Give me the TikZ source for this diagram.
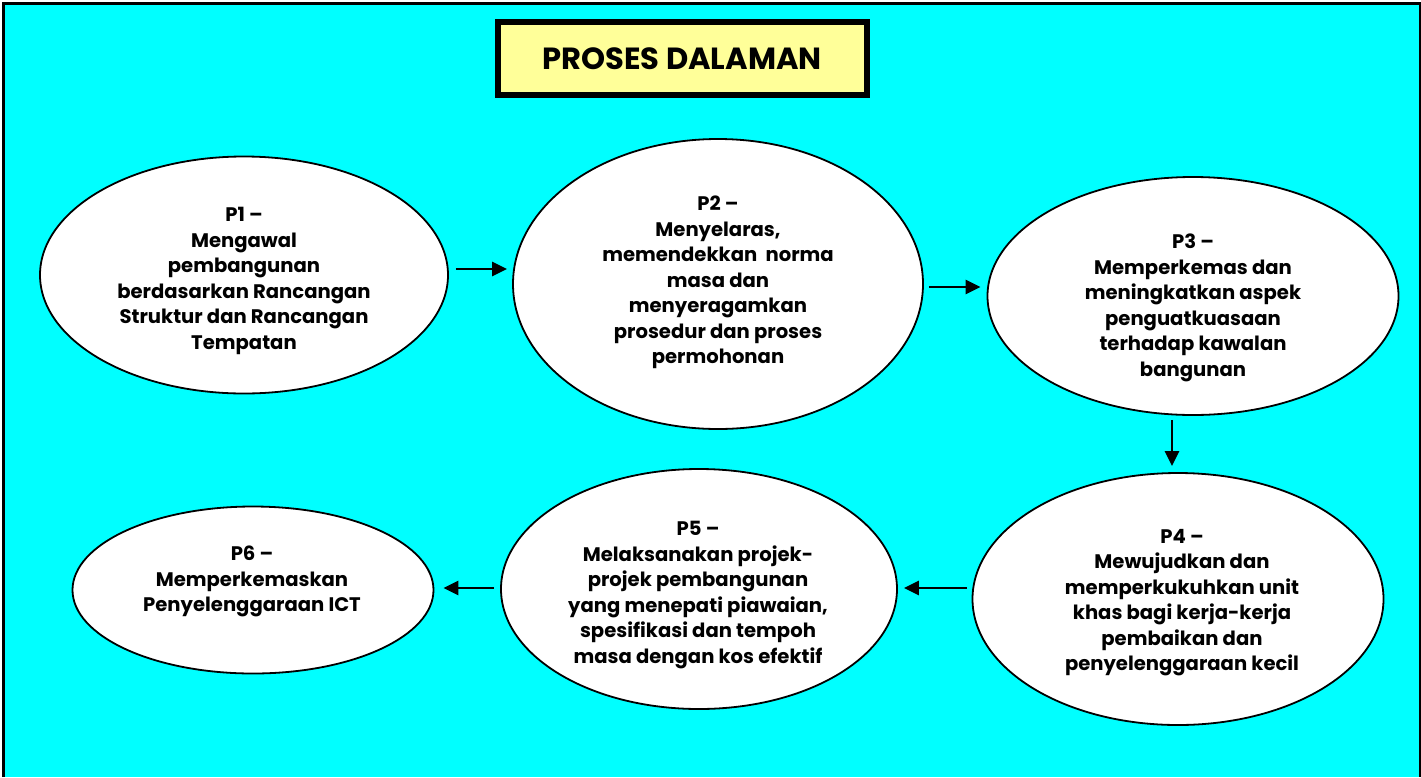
\documentclass[tikz,border=0pt]{standalone}
\usepackage{fontspec}
\setmainfont{Poppins}
\usetikzlibrary{arrows.meta,calc,shapes.geometric}
\definecolor{bgcyan}{HTML}{00FFFF}
\definecolor{titleyellow}{HTML}{FFFF99}
\begin{document}
\begin{tikzpicture}[x=1pt,y=-1pt,
  ell/.style={ellipse, draw=black, line width=1.8pt, fill=white, inner sep=0pt},
  txt/.style={align=center, anchor=north, inner sep=0pt, font=\bfseries\fontsize{19.6}{25.5}\selectfont},
  arr/.style={line width=2.6pt, -{Triangle[length=15pt,width=14pt]}},
  titlebox/.style={draw=black, line width=6pt, fill=titleyellow, minimum width=369pt, minimum height=73pt, inner sep=0pt, font=\bfseries\fontsize{30.6}{34}\selectfont}
]
\useasboundingbox (0,0) rectangle (1421,777);
\fill[white] (0,0) rectangle (1421,777);
\fill[bgcyan] (3,3) rectangle (1421,777);
\draw[line width=2.5pt] (3.7,777) -- (3.7,3.3) -- (1419.8,3.3) -- (1419.8,777);

\node[titlebox] (title) at (682,58.5) {PROSES DALAMAN};

\node[ell, minimum width=408pt, minimum height=237pt] (p1) at (244,275) {};
\node[ell, minimum width=410pt, minimum height=290pt] (p2) at (718,284) {};
\node[ell, minimum width=411pt, minimum height=238pt] (p3) at (1193,296) {};
\node[ell, minimum width=411pt, minimum height=252pt] (p4) at (1178,599) {};
\node[ell, minimum width=396pt, minimum height=240pt] (p5) at (699,589) {};
\node[ell, minimum width=361pt, minimum height=167pt] (p6) at (253,590) {};

\node[txt] (t1) at (244,207) {P1 --\\Mengawal\\pembangunan\\berdasarkan Rancangan\\Struktur dan Rancangan\\Tempatan};
\node[txt] (t2) at (718,196) {P2 --\\Menyelaras,\\memendekkan\ \ norma\\masa dan\\menyeragamkan\\prosedur dan proses\\permohonan};
\node[txt] (t3) at (1193,234) {P3 --\\Memperkemas dan\\meningkatkan aspek\\penguatkuasaan\\terhadap kawalan\\bangunan};
\node[txt] (t4) at (1182,529) {P4 --\\Mewujudkan dan\\memperkukuhkan unit\\khas bagi kerja-kerja\\pembaikan dan\\penyelenggaraan kecil};
\node[txt] (t5) at (698,521) {P5 --\\Melaksanakan projek-\\projek pembangunan\\yang menepati piawaian,\\spesifikasi dan tempoh\\masa dengan kos efektif};
\node[txt] (t6) at (252,546) {P6 --\\Memperkemaskan\\Penyelenggaraan ICT};

\draw[arr] ($(p1.east)+(7,-6)$) -- ($(p2.west)+(-5,-15)$);
\draw[arr] ($(p2.east)+(5,3)$) -- ($(p3.west)+(-6,-9)$);
\draw[arr] ($(p3.south)+(-21,4)$) -- ($(p4.north)+(-6,-6)$);
\draw[arr] ($(p4.west)+(-5,-11)$) -- ($(p5.east)+(6,-1)$);
\draw[arr] ($(p5.west)+(-6,-1)$) -- ($(p6.east)+(9,-2)$);
\end{tikzpicture}
\end{document}
